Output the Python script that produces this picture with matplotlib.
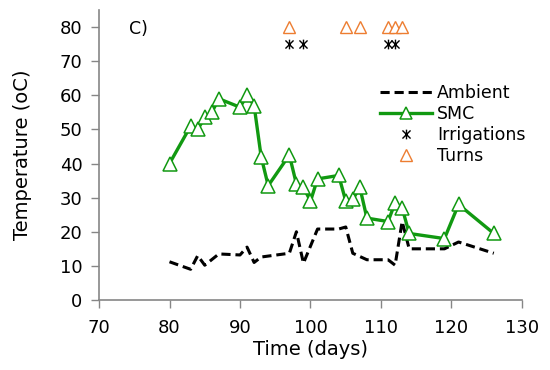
import matplotlib
matplotlib.use("Agg")
import matplotlib.pyplot as plt
from matplotlib.path import Path

plt.rcParams['font.family'] = ['DejaVu Sans']

# Data
amb_days = [80, 83, 84, 85, 87, 90, 91, 92, 93, 97, 98, 99, 101, 104, 105, 106, 108, 111, 112, 113, 114, 119, 121, 126]
amb_temp = [11.2, 9, 13, 10.2, 13.5, 13.2, 15.5, 11, 12.6, 13.7, 20, 10.8, 20.8, 20.8, 21.4, 13.7, 11.8, 11.8, 10.2, 23, 15, 15, 17, 13.7]

smc_days = [80, 83, 84, 85, 86, 87, 90, 91, 92, 93, 94, 97, 98, 99, 100, 101, 104, 105, 106, 107, 108, 111, 112, 113, 114, 119, 121, 126]
smc_temp = [40, 51, 50, 53.5, 55, 59, 56.5, 60, 57, 42, 33.5, 42.5, 34, 33, 29, 35.5, 36.5, 29, 29.5, 33, 24, 23, 28.5, 27, 19.5, 18, 28, 19.5]

irr_days = [97, 99, 111, 112]
irr_level = [75, 75, 75, 75]

turn_days = [97, 105, 107, 111, 112, 113]
turn_level = [80, 80, 80, 80, 80, 80]

x_ticks = [70, 80, 90, 100, 110, 120, 130]
y_ticks = [0, 10, 20, 30, 40, 50, 60, 70, 80]

green = "#119911"
orange = "#ED7D31"
gray = "#868686"

# asterisk-like marker: x plus vertical bar
ast = Path([(-1, -1), (1, 1), (-1, 1), (1, -1), (0, -1.2), (0, 1.2)],
           [Path.MOVETO, Path.LINETO, Path.MOVETO, Path.LINETO, Path.MOVETO, Path.LINETO])

fig = plt.figure(figsize=(5.5, 3.7), dpi=100)
ax = fig.add_axes([99/550, 1-300/370, (522-99)/550, (300-10)/370])

ax.plot(amb_days, amb_temp, color="black", lw=2.2, dashes=(3, 1.6), label="Ambient")
ax.plot(smc_days, smc_temp, color=green, lw=2.4, marker="^", markersize=10,
        markerfacecolor="white", markeredgecolor=green, markeredgewidth=1.1, label="SMC")
ax.plot(irr_days, irr_level, linestyle="none", marker=ast, markersize=7,
        markeredgecolor="black", markeredgewidth=1.0, color="black", label="Irrigations")
ax.plot(turn_days, turn_level, linestyle="none", marker="^", markersize=8,
        markerfacecolor="white", markeredgecolor=orange, markeredgewidth=1.0, label="Turns")

ax.set_xlim(70, 130)
ax.set_ylim(0, 85)
ax.set_xticks(x_ticks)
ax.set_yticks(y_ticks)
ax.tick_params(labelsize=13, color=gray, length=6, width=1, direction="out")
ax.tick_params(axis="x", pad=8)
ax.tick_params(axis="y", pad=6)
for s in ["top", "right"]:
    ax.spines[s].set_visible(False)
for s in ["left", "bottom"]:
    ax.spines[s].set_color(gray)
    ax.spines[s].set_linewidth(1.2)

ax.set_xlabel("Time (days)", fontsize=14, labelpad=2)
ax.set_ylabel("Temperature (oC)", fontsize=14, labelpad=20)
ax.text(74.3, 79.5, "C)", fontsize=12.5, va="center", ha="left")

leg = ax.legend(loc="upper left", bbox_to_anchor=(371/550, 1-75/370), bbox_transform=fig.transFigure,
                frameon=False, fontsize=12.5, handlelength=3.0, handletextpad=0.3,
                labelspacing=0.18, borderpad=0, numpoints=1)
leg.legend_handles[1].set_markersize(8)

fig.savefig("out.png", dpi=100)
